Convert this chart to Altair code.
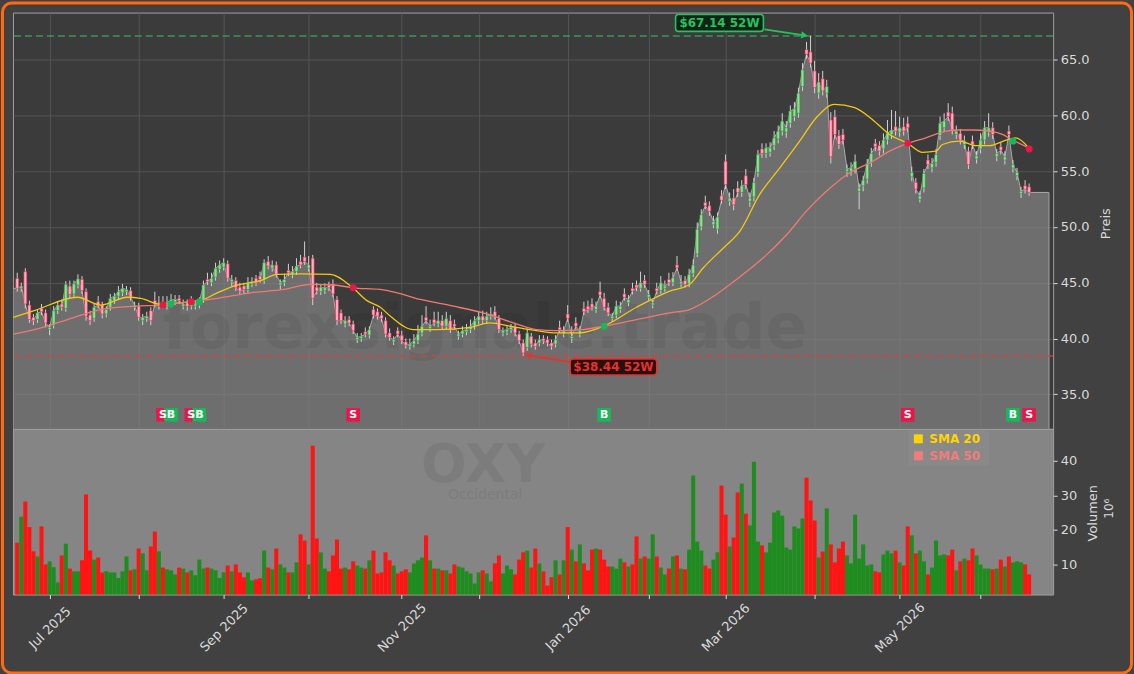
import altair as alt
import pandas as pd

# ---------------- data ----------------
CLOSE = [
    44.5, 44.7, 43.1, 41.7, 41.6, 42.3, 42.4, 41.4, 41.0, 42.5,
    43.0, 42.8, 44.85, 43.95, 44.9, 45.35, 44.3, 42.0, 41.6, 42.8,
    43.0, 42.2, 42.6, 43.6, 43.8, 44.2, 44.5, 44.4, 43.7, 43.0,
    41.9, 41.9, 42.0, 41.6, 43.1, 43.2, 43.0, 43.2, 43.5, 43.5,
    43.4, 43.1, 42.9, 43.3, 43.1, 43.3, 44.8, 45.1, 45.4, 46.3,
    46.6, 46.8, 45.4, 45.3, 44.55, 44.25, 44.4, 45.0, 45.1, 45.0,
    45.3, 46.8, 46.5, 46.6, 45.75, 45.0, 45.3, 45.9, 46.0, 46.5,
    46.6, 46.9, 46.6, 43.6, 44.25, 44.6, 44.55, 44.55, 44.0, 41.6,
    41.6, 41.6, 41.4, 40.7, 40.1, 40.2, 40.4, 40.8, 42.1, 42.0,
    41.8, 40.4, 40.1, 39.9, 40.4, 39.8, 39.4, 39.5, 39.8, 40.4,
    41.1, 41.6, 41.1, 41.4, 41.6, 41.1, 41.8, 40.8, 41.1, 40.4,
    40.7, 40.8, 41.1, 41.6, 42.0, 41.6, 42.0, 42.2, 42.0, 40.8,
    40.7, 40.8, 41.0, 40.5, 39.8, 38.7, 40.5, 39.5, 39.3, 39.9,
    39.8, 39.6, 39.3, 39.9, 40.8, 40.7, 41.8, 40.2, 41.1, 40.7,
    42.4, 42.6, 42.8, 42.9, 43.9, 42.8, 42.3, 42.0, 42.9, 42.9,
    43.7, 43.5, 44.25, 44.55, 45.0, 44.85, 43.95, 43.2, 44.25, 45.0,
    44.7, 45.0, 45.45, 46.35, 45.1, 44.85, 45.75, 46.6, 49.8, 51.1,
    51.9, 51.4, 50.5, 50.9, 52.4, 53.8, 52.6, 52.0, 53.1, 53.7,
    53.8, 52.6, 54.0, 56.5, 56.6, 57.1, 57.1, 58.0, 58.6, 59.5,
    58.9, 60.4, 60.6, 62.0, 64.1, 65.5, 64.7, 62.5, 63.0, 62.2,
    62.6, 56.3, 58.3, 57.4, 57.8, 55.2, 55.3, 55.9, 53.5, 54.2,
    55.7, 56.6, 57.2, 56.8, 57.8, 58.4, 58.7, 58.6, 58.9, 58.6,
    58.9, 54.9, 53.4, 52.8, 54.8, 55.6, 55.7, 56.5, 59.3, 59.5,
    59.9, 58.7, 58.6, 57.8, 57.7, 55.6, 57.4, 56.4, 57.8, 58.9,
    58.9, 58.3, 56.6, 56.9, 56.3, 58.3, 55.6, 54.9, 53.2, 53.4, 53.1,
]
OPEN = [
    45.4, 44.5, 46.0, 43.0, 41.9, 41.7, 42.7, 42.3, 40.8, 41.2,
    42.5, 43.1, 42.7, 44.7, 44.0, 44.8, 45.3, 44.2, 42.1, 41.8,
    43.3, 43.0, 42.2, 42.8, 43.4, 43.8, 44.1, 44.2, 44.3, 42.8,
    42.9, 41.6, 41.8, 42.5, 43.4, 42.9, 43.3, 42.9, 43.1, 43.3,
    43.6, 42.9, 43.2, 42.9, 42.9, 43.0, 43.5, 45.3, 45.0, 45.5,
    46.2, 46.4, 46.7, 45.1, 45.2, 44.6, 44.7, 44.4, 44.9, 45.4,
    45.6, 45.2, 46.9, 46.3, 46.6, 44.8, 45.0, 46.1, 45.7, 46.0,
    46.9, 47.3, 46.3, 47.2, 44.6, 44.2, 44.3, 44.8, 44.9, 43.5,
    42.3, 41.3, 41.7, 41.3, 39.9, 40.0, 40.6, 40.3, 42.6, 42.4,
    42.1, 41.6, 40.5, 39.7, 40.7, 40.3, 39.7, 39.3, 39.5, 39.8,
    40.5, 41.9, 40.9, 41.7, 41.3, 41.6, 41.1, 41.6, 41.3, 40.2,
    40.4, 40.6, 40.8, 41.1, 41.6, 42.0, 41.6, 42.0, 42.4, 41.8,
    40.5, 40.6, 40.8, 41.0, 40.4, 39.6, 39.2, 40.2, 39.6, 39.6,
    40.0, 39.9, 39.6, 39.5, 41.0, 40.4, 42.2, 40.0, 41.4, 40.4,
    42.7, 42.9, 43.1, 42.6, 44.2, 43.6, 42.8, 41.8, 42.1, 42.6,
    44.0, 43.2, 44.5, 44.8, 44.5, 45.2, 43.7, 43.0, 44.5, 44.3,
    44.5, 45.3, 45.0, 46.6, 44.9, 45.2, 44.9, 45.8, 47.6, 50.0,
    52.2, 51.9, 50.2, 49.8, 52.8, 55.9, 52.3, 52.6, 53.5, 53.1,
    54.6, 52.3, 52.7, 54.9, 57.0, 56.6, 56.7, 57.3, 57.9, 58.6,
    58.5, 59.3, 59.9, 60.2, 62.6, 65.9, 65.7, 64.0, 62.0, 63.3,
    62.0, 59.6, 59.9, 58.2, 58.3, 55.0, 55.0, 55.2, 53.2, 53.7,
    54.3, 55.8, 57.5, 57.3, 57.0, 57.8, 58.3, 59.0, 58.5, 59.0,
    59.3, 54.5, 54.0, 52.5, 53.5, 56.0, 55.3, 55.8, 58.2, 58.9,
    60.3, 60.2, 58.3, 58.4, 57.4, 56.8, 57.7, 56.1, 57.0, 57.8,
    58.5, 58.9, 56.3, 57.2, 56.0, 58.6, 55.3, 54.6, 53.0, 53.7, 53.6,
]
WICK_UP = [
    0.5, 0.3, 0.3, 0.4, 0.3, 0.3, 0.4, 0.3, 0.3, 0.4,
    0.3, 0.4, 0.3, 0.5, 0.3, 0.4, 0.3, 0.3, 0.4, 0.3,
    0.5, 0.3, 0.3, 0.4, 0.3, 0.5, 0.4, 0.3, 0.3, 0.3,
    0.3, 0.3, 0.4, 0.3, 0.8, 0.6, 0.5, 0.6, 0.5, 0.4,
    0.3, 0.4, 0.3, 0.5, 0.3, 0.4, 0.4, 0.6, 0.5, 0.5,
    0.4, 0.4, 0.3, 0.4, 0.3, 0.4, 0.3, 0.5, 0.4, 0.3,
    0.4, 0.3, 0.5, 0.4, 0.3, 0.3, 0.5, 0.6, 0.5, 0.7,
    0.6, 1.4, 0.8, 0.3, 0.4, 0.3, 0.4, 0.3, 0.4, 0.3,
    0.3, 0.4, 0.3, 0.3, 0.4, 0.3, 0.4, 0.3, 0.3, 0.3,
    0.3, 0.3, 0.4, 0.3, 0.3, 0.4, 0.3, 0.5, 0.6, 0.8,
    1.0, 1.0, 0.6, 0.7, 0.8, 0.5, 0.6, 0.5, 0.4, 0.3,
    0.4, 0.5, 0.6, 0.4, 0.4, 0.5, 0.4, 0.6, 0.5, 0.3,
    0.3, 0.4, 0.3, 0.3, 0.3, 0.3, 0.4, 0.3, 0.3, 0.4,
    0.3, 0.3, 0.3, 0.4, 0.6, 0.4, 0.8, 0.9, 0.5, 0.4,
    0.6, 0.5, 0.5, 0.4, 0.9, 0.5, 0.4, 0.3, 0.5, 0.4,
    0.5, 0.4, 0.5, 0.4, 1.0, 0.5, 0.4, 0.3, 0.5, 0.6,
    0.5, 0.6, 0.5, 0.8, 0.6, 0.4, 0.5, 0.5, 0.6, 0.5,
    0.6, 0.4, 0.5, 0.4, 0.5, 0.6, 0.5, 0.8, 0.6, 0.5,
    0.6, 0.5, 0.4, 0.4, 0.5, 0.4, 0.5, 0.6, 0.5, 0.7,
    0.6, 0.5, 0.6, 0.5, 0.6, 0.7, 1.44, 0.9, 0.8, 0.7,
    0.6, 0.7, 0.6, 0.5, 0.5, 0.4, 0.5, 0.6, 0.4, 0.4,
    0.4, 0.5, 0.4, 0.4, 0.6, 1.2, 1.8, 1.4, 1.0, 0.8,
    0.6, 0.5, 0.4, 0.4, 0.4, 0.5, 0.5, 0.5, 0.6, 0.7,
    0.8, 0.6, 0.5, 0.4, 0.5, 0.4, 0.5, 0.4, 0.6, 0.6,
    1.3, 0.5, 0.4, 0.4, 0.5, 0.5, 0.4, 0.4, 0.4, 0.5, 0.3,
]
WICK_DN = [
    0.3, 0.3, 0.4, 0.3, 0.4, 0.3, 0.3, 0.4, 0.5, 0.3,
    0.3, 0.3, 0.3, 0.4, 0.3, 0.3, 0.3, 0.4, 0.4, 0.3,
    0.3, 0.4, 0.3, 0.3, 0.3, 0.3, 0.3, 0.3, 0.3, 0.3,
    0.3, 0.4, 0.3, 0.4, 0.3, 0.3, 0.3, 0.3, 0.3, 0.3,
    0.3, 0.3, 0.4, 0.3, 0.3, 0.3, 0.3, 0.3, 0.3, 0.3,
    0.3, 0.3, 0.3, 0.4, 0.3, 0.3, 0.4, 0.3, 0.3, 0.3,
    0.3, 0.3, 0.3, 0.3, 0.3, 0.4, 0.3, 0.3, 0.3, 0.3,
    0.3, 0.3, 0.3, 0.6, 0.3, 0.3, 0.3, 0.3, 0.3, 0.4,
    0.3, 0.3, 0.3, 0.3, 0.3, 0.3, 0.3, 0.3, 0.3, 0.3,
    0.3, 0.3, 0.3, 0.3, 0.3, 0.3, 0.3, 0.3, 0.3, 0.3,
    0.3, 0.3, 0.3, 0.3, 0.3, 0.3, 0.3, 0.3, 0.3, 0.3,
    0.3, 0.3, 0.3, 0.3, 0.3, 0.3, 0.3, 0.3, 0.3, 0.3,
    0.3, 0.3, 0.3, 0.3, 0.3, 0.26, 0.3, 0.3, 0.3, 0.3,
    0.3, 0.3, 0.3, 0.3, 0.3, 0.3, 0.3, 0.4, 0.3, 0.3,
    0.3, 0.3, 0.3, 0.3, 0.3, 0.3, 0.3, 0.3, 0.3, 0.3,
    0.3, 0.3, 0.3, 0.3, 0.3, 0.3, 0.3, 0.3, 0.3, 0.3,
    0.3, 0.3, 0.3, 0.3, 0.3, 0.3, 0.3, 0.3, 0.3, 0.3,
    0.3, 0.4, 0.3, 0.4, 0.3, 0.4, 0.4, 0.5, 0.4, 0.4,
    0.4, 0.5, 0.4, 0.4, 0.4, 0.4, 0.4, 0.4, 0.4, 0.4,
    0.5, 0.4, 0.4, 0.4, 0.4, 0.4, 0.4, 0.5, 0.5, 0.4,
    0.4, 0.6, 0.4, 0.4, 0.4, 0.5, 0.4, 0.4, 1.6, 0.5,
    0.4, 0.4, 0.4, 0.4, 0.4, 0.4, 0.4, 0.4, 0.4, 0.4,
    0.4, 0.4, 0.4, 0.3, 0.4, 0.4, 0.4, 0.4, 0.4, 0.4,
    0.4, 0.4, 0.4, 0.4, 0.4, 0.4, 0.4, 0.4, 0.4, 0.4,
    0.4, 0.4, 0.4, 0.4, 0.4, 0.4, 0.4, 0.4, 0.4, 0.4, 0.3,
]
VOLUME = [
    16.3, 23.8, 28.2, 20.8, 13.8, 12.3, 21.0, 10.0, 10.9, 9.2,
    4.8, 12.6, 16.0, 8.8, 8.0, 8.0, 11.2, 30.2, 14.0, 11.4,
    12.0, 7.7, 8.0, 7.7, 7.7, 6.1, 8.0, 12.3, 8.3, 8.6,
    14.6, 13.2, 8.3, 15.2, 19.5, 13.8, 9.1, 8.6, 8.3, 7.1,
    9.1, 8.8, 7.7, 8.3, 6.9, 11.4, 8.8, 9.1, 8.8, 8.3,
    6.1, 7.7, 9.7, 8.0, 10.0, 7.7, 6.3, 7.7, 5.4, 5.7,
    6.0, 14.0, 9.1, 8.6, 14.6, 10.0, 9.1, 7.7, 7.7, 10.6,
    18.7, 16.9, 10.0, 44.3, 17.5, 13.5, 8.8, 8.0, 12.6, 17.2,
    8.8, 9.1, 8.6, 10.9, 9.7, 9.1, 8.8, 11.2, 14.0, 7.4,
    7.7, 13.5, 11.2, 9.7, 7.4, 8.0, 8.6, 7.7, 10.3, 11.2,
    12.0, 18.4, 11.2, 8.8, 8.8, 8.3, 8.3, 7.4, 10.0, 9.4,
    9.1, 8.0, 7.4, 4.5, 7.7, 8.3, 7.4, 5.1, 10.3, 12.6,
    7.4, 9.7, 8.6, 7.1, 11.4, 13.5, 14.0, 9.1, 14.6, 10.3,
    8.0, 3.9, 6.3, 11.2, 7.1, 11.2, 20.8, 14.3, 10.9, 15.8,
    10.3, 8.3, 14.3, 14.6, 14.3, 11.4, 9.4, 9.4, 8.8, 11.7,
    10.6, 9.4, 10.0, 18.1, 11.7, 12.3, 11.7, 18.7, 12.3, 9.1,
    7.1, 8.8, 12.3, 12.6, 8.8, 8.6, 14.3, 35.7, 16.6, 14.0,
    9.7, 8.8, 11.4, 13.5, 32.8, 24.4, 15.2, 17.8, 30.8, 33.4,
    24.7, 21.3, 39.7, 16.6, 15.5, 13.5, 16.3, 25.0, 25.6, 24.1,
    14.9, 14.3, 21.0, 20.4, 23.3, 35.1, 28.5, 22.7, 12.0, 13.75,
    26.2, 15.8, 10.6, 14.6, 16.6, 12.6, 10.3, 24.4, 11.7, 15.8,
    9.7, 10.0, 8.0, 7.7, 12.9, 14.0, 13.2, 14.0, 10.6, 9.7,
    21.0, 18.4, 13.2, 14.0, 10.9, 7.1, 9.1, 16.9, 12.6, 12.9,
    12.6, 14.3, 8.3, 10.9, 11.7, 11.2, 14.6, 12.6, 10.0, 8.8,
    8.8, 8.6, 8.8, 11.4, 9.4, 12.3, 10.6, 10.9, 10.6, 10.0, 7.1,
]
VOL_UP = [
    0, 1, 0, 0, 0, 1, 0, 0, 1, 1,
    1, 0, 1, 0, 1, 1, 0, 0, 0, 1,
    0, 0, 1, 1, 1, 1, 1, 1, 0, 1,
    0, 1, 1, 0, 0, 1, 0, 1, 1, 1,
    0, 1, 0, 1, 1, 1, 1, 0, 1, 1,
    1, 1, 0, 1, 0, 0, 0, 1, 1, 0,
    0, 1, 0, 1, 0, 1, 1, 0, 1, 1,
    0, 0, 1, 0, 0, 1, 1, 0, 0, 0,
    0, 1, 0, 0, 1, 1, 0, 1, 0, 0,
    0, 0, 0, 1, 0, 0, 0, 1, 1, 1,
    1, 0, 1, 0, 1, 0, 1, 0, 0, 1,
    1, 1, 1, 1, 1, 0, 1, 1, 0, 0,
    1, 1, 1, 0, 0, 0, 1, 0, 0, 1,
    0, 0, 0, 1, 0, 1, 0, 1, 0, 1,
    0, 0, 0, 1, 0, 0, 0, 1, 1, 1,
    0, 1, 0, 0, 1, 0, 1, 1, 0, 1,
    1, 0, 1, 0, 1, 0, 1, 1, 1, 1,
    0, 0, 1, 1, 0, 0, 1, 0, 0, 1,
    0, 1, 1, 1, 0, 1, 1, 1, 1, 1,
    1, 1, 1, 1, 1, 0, 0, 0, 1, 0,
    1, 0, 0, 0, 0, 1, 1, 1, 1, 1,
    1, 1, 0, 0, 1, 1, 1, 0, 1, 0,
    0, 1, 0, 1, 1, 0, 1, 1, 1, 1,
    0, 0, 1, 0, 1, 0, 0, 1, 1, 1,
    1, 0, 1, 0, 1, 0, 1, 1, 1, 0, 0,
]

SMA20_I = [-1.0, 4.2, 14.9, 20.6, 27.2, 30.5, 34.6, 36.0, 38.0, 40.5, 43.0, 45.3,
           49.4, 53.5, 60.1, 64.2, 70.0, 77.4, 82.9, 86.4, 89.7, 92.2, 97.9, 103.7,
           111.9, 116.8, 121.8, 128.3, 133.3, 139.0, 144.8, 153.0, 161.2, 166.1,
           169.4, 174.4, 178.5, 183.4, 188.4, 193.3, 197.4, 201.9, 206.9, 211.4,
           215.5, 220.0, 223.7, 227.0, 228.6, 232.8, 236.9, 240.2, 244.3, 246.7, 249.9]
SMA20_V = [41.9, 42.5, 43.7, 43.0, 43.7, 43.6, 43.1, 43.0, 43.1, 43.2, 43.3, 43.4,
           44.1, 44.7, 45.2, 45.75, 45.8, 45.75, 44.55, 43.4, 42.8, 42.0, 40.8, 40.8,
           41.0, 41.4, 41.1, 40.7, 40.5, 40.5, 41.1, 42.8, 44.25, 44.85,
           46.3, 48.1, 49.6, 52.9, 55.3, 57.7, 59.8, 61.0, 60.7, 59.6,
           58.3, 57.5, 56.7, 56.8, 57.4, 57.7, 57.3, 57.3, 57.8, 58.0, 57.1]
SMA50_I = [-1.0, 4.2, 12.4, 20.6, 28.9, 35.4, 42.8, 49.4, 57.6, 65.9, 72.4, 78.2,
           82.9, 89.7, 93.8, 99.6, 107.8, 116.0, 122.6, 128.3, 133.3, 139.8, 144.8,
           153.0, 161.2, 166.1, 172.7, 177.7, 185.1, 190.8, 194.9, 199.9, 205.6,
           211.4, 215.5, 220.0, 224.5, 229.5, 231.9, 236.0, 240.2, 243.4, 245.9, 249.9]
SMA50_V = [40.4, 40.8, 41.7, 42.6, 42.9, 43.0, 43.3, 43.6, 44.1, 44.4, 44.85, 44.8,
           44.55, 44.4, 44.1, 43.5, 42.9, 42.2, 41.4, 40.8, 40.7, 40.8, 41.1,
           41.7, 42.3, 42.6, 43.95, 45.3, 47.5, 49.6, 51.4, 53.2, 54.85,
           55.9, 56.8, 57.5, 58.0, 58.6, 58.7, 58.7, 58.6, 58.3, 57.8, 57.1]

SIGNAL_I = [36, 38, 43, 45, 83, 145, 220, 246, 250]
SIGNAL_TYPE = ["S", "B", "S", "B", "S", "B", "S", "B", "S"]
SIGNAL_PRICE = [43.0, 43.1, 43.3, 43.3, 44.55, 41.1, 57.5, 57.7, 57.0]

MONTH_TICK_I = [8, 30, 51, 72, 95, 114, 136, 156, 175, 197, 218, 238]
MONTH_LABELS = ["Jul 2025", "", "Sep 2025", "", "Nov 2025", "", "Jan 2026", "",
                "Mar 2026", "", "May 2026", ""]

HIGH_52W = 67.14
HIGH_52W_I = 196
LOW_52W = 38.44
LOW_52W_I = 125

# ---------------- layout / style constants ----------------
N = len(CLOSE)
assert all(len(a) == N for a in [OPEN, WICK_UP, WICK_DN, VOLUME, VOL_UP])
X_DOMAIN = [-1.05, 255.93]
P_DOMAIN = [31.9, 69.23]
V_DOMAIN = [1.3, 49.2]
W, H_PRICE, H_VOL = 1042, 417, 166
AREA_END_I = 254.9
FONT = "DejaVu Sans"
LABEL_C = "#d9d9d9"
GRID_C = "#5a5a5a"
AREA_C = "#858585"
UP_C, DOWN_C = "#1f8c1f", "#ff1414"

df = pd.DataFrame({"i": list(range(N)), "open": OPEN, "close": CLOSE,
                   "vol": VOLUME, "up": VOL_UP, "wu": WICK_UP, "wd": WICK_DN})
df["high"] = df[["open", "close"]].max(axis=1) + df["wu"]
df["low"] = df[["open", "close"]].min(axis=1) - df["wd"]
df["dir"] = df["up"].map({1: "up", 0: "down"})
df["x0"] = df["i"] - 0.5
df["x1"] = df["i"] + 0.5
df["b0"] = df["i"] - 0.36
df["b1"] = df["i"] + 0.36
df["vbase"] = V_DOMAIN[0]

area_df = pd.concat([
    pd.DataFrame({"i": [X_DOMAIN[0]], "close": [CLOSE[0]]}),
    df[["i", "close"]],
    pd.DataFrame({"i": [AREA_END_I], "close": [CLOSE[-1]]}),
], ignore_index=True)

sma20 = pd.DataFrame({"i": SMA20_I, "v": SMA20_V})
sma50 = pd.DataFrame({"i": SMA50_I, "v": SMA50_V})
sig = pd.DataFrame({"i": SIGNAL_I, "t": SIGNAL_TYPE, "p": SIGNAL_PRICE})
one = pd.DataFrame({"k": [0]})

xs = alt.Scale(domain=X_DOMAIN, nice=False, zero=False)
ps = alt.Scale(domain=P_DOMAIN, nice=False, zero=False)
vs = alt.Scale(domain=V_DOMAIN, nice=False, zero=False)

x_ax_price = alt.Axis(values=MONTH_TICK_I, grid=True, gridColor=GRID_C, gridWidth=0.8,
                      labels=False, ticks=False, domain=False, title=None)
y_ax_price = alt.Axis(orient="right", values=[35, 40, 45, 50, 55, 60, 65], format=".1f",
                      grid=True, gridColor=GRID_C, gridWidth=0.8, domain=False,
                      tickColor=LABEL_C, tickSize=4, labelColor=LABEL_C, labelFontSize=13,
                      labelPadding=3, title="Preis", titleColor=LABEL_C, titleFontSize=13,
                      titleFontWeight="normal", titleAngle=270, titleX=52, titleY=211,
                      titleAlign="center", titleBaseline="middle")

label_expr = " : ".join(f"datum.value == {v} ? '{l}'"
                        for v, l in zip(MONTH_TICK_I, MONTH_LABELS) if l) + " : ''"
x_ax_vol = alt.Axis(values=MONTH_TICK_I, labelExpr=label_expr, grid=False, domain=False,
                    tickColor=LABEL_C, tickSize=4, labelColor=LABEL_C, labelFontSize=13,
                    labelAngle=-45, labelAlign="center", labelBaseline="middle",
                    labelPadding=29, labelOverlap=False, labelFlush=False, title=None)
y_ax_vol = alt.Axis(orient="right", values=[10, 20, 30, 40], grid=False, domain=False,
                    tickColor=LABEL_C, tickSize=4, labelColor=LABEL_C, labelFontSize=13,
                    labelPadding=3, title="Volumen", titleColor=LABEL_C, titleFontSize=13,
                    titleFontWeight="normal", titleAngle=270, titleX=39, titleY=84,
                    titleAlign="center", titleBaseline="middle")


def px(field="i"):
    return alt.X(f"{field}:Q", scale=xs, axis=x_ax_price)


def py(field):
    return alt.Y(f"{field}:Q", scale=ps, axis=y_ax_price)


# ---------------- price panel ----------------
border = alt.Chart(one).mark_rect(fill=None, stroke="#ff6a13", strokeWidth=3,
                                  cornerRadius=9).encode(
    x=alt.value(-10.5), x2=alt.value(1120.5), y=alt.value(-9.5), y2=alt.value(661.5))

area = alt.Chart(area_df).mark_area(color=AREA_C, clip=True,
                                    line={"color": "#a9a9a9", "strokeWidth": 1}).encode(
    x=px(), y=py("close"))

area_edge = alt.Chart(pd.DataFrame({"i": [AREA_END_I], "a": [CLOSE[-1]], "b": [P_DOMAIN[0]]})
                      ).mark_rule(color="#a0a0a0", strokeWidth=1).encode(
    x=px(), y=py("a"), y2="b:Q")

lvl = pd.DataFrame({"p": [HIGH_52W, LOW_52W], "c": ["hi", "lo"]})
level_lines = alt.Chart(lvl).mark_rule(strokeDash=[7, 4], strokeWidth=1.5, opacity=0.85).encode(
    y=py("p"),
    color=alt.Color("c:N", scale=alt.Scale(domain=["hi", "lo"], range=["#3aa85c", "#d9413f"]),
                    legend=None))

watermark = alt.Chart(one).mark_text(text="forexsignale.trade", font=FONT, fontWeight="bold",
                                     fontSize=62, color="#000000", opacity=0.055,
                                     align="center", baseline="alphabetic").encode(
    x=alt.value(473), y=alt.value(336))

wicks = alt.Chart(df).mark_rule(color="#d2d2d2", strokeWidth=1).encode(
    x=px(), y=py("low"), y2="high:Q")

bodies = alt.Chart(df).mark_rect(strokeWidth=0.6).encode(
    x=px("b0"), x2="b1:Q", y=py("open"), y2="close:Q",
    fill=alt.Fill("dir:N", scale=alt.Scale(domain=["up", "down"], range=["#8fe08f", "#ffadc0"]),
                  legend=None),
    stroke=alt.Stroke("dir:N", scale=alt.Scale(domain=["up", "down"], range=["#2e8b3e", "#e0284f"]),
                      legend=None))

sma20_line = alt.Chart(sma20).mark_line(color="#f2c914", strokeWidth=1.3,
                                        interpolate="monotone").encode(x=px(), y=py("v"))
sma50_line = alt.Chart(sma50).mark_line(color="#ef7a72", strokeWidth=1.3,
                                        interpolate="monotone").encode(x=px(), y=py("v"))

sig_col = alt.Scale(domain=["S", "B"], range=["#e8174a", "#18b85a"])
sig_dots = alt.Chart(sig).mark_circle(size=48, opacity=1).encode(
    x=px(), y=py("p"), color=alt.Color("t:N", scale=sig_col, legend=None))
sig_boxes = alt.Chart(sig).mark_square(size=185, opacity=1).encode(
    x=px(), y=alt.value(403), color=alt.Color("t:N", scale=sig_col, legend=None))
sig_text = alt.Chart(sig).mark_text(font=FONT, fontWeight="bold", fontSize=11, color="white",
                                    align="center", baseline="middle", dy=0.5).encode(
    x=px(), y=alt.value(403), text="t:N")

# 52-week annotations (box centre/size in data units, arrow from box to extreme)
ann = pd.DataFrame({
    "cx": [173.5, 147.3], "cy": [68.3, 37.45],
    "hw": [10.85, 10.7], "hh": [0.76, 0.72],
    "label": [f"${HIGH_52W:.2f} 52W", f"${LOW_52W:.2f} 52W"],
    "c": ["hi", "lo"],
    "ax0": [184.6, 136.4], "ay0": [67.72, 37.9],
    "ax1": [HIGH_52W_I - 1.5, LOW_52W_I + 1.2], "ay1": [HIGH_52W + 0.05, LOW_52W + 0.05],
})
ann["x0"] = ann.cx - ann.hw
ann["x1"] = ann.cx + ann.hw
ann["y0"] = ann.cy - ann.hh
ann["y1"] = ann.cy + ann.hh
ann_c_line = alt.Scale(domain=["hi", "lo"], range=["#27c25e", "#e3332e"])
ann_c_fill = alt.Scale(domain=["hi", "lo"], range=["#0e2416", "#2a0f0f"])

ann_box = alt.Chart(ann).mark_rect(strokeWidth=1.6, cornerRadius=3).encode(
    x=px("x0"), x2="x1:Q", y=py("y0"), y2="y1:Q",
    fill=alt.Fill("c:N", scale=ann_c_fill, legend=None),
    stroke=alt.Stroke("c:N", scale=ann_c_line, legend=None))
ann_text = alt.Chart(ann).mark_text(font=FONT, fontWeight="bold", fontSize=12,
                                    align="center", baseline="middle", dy=0.5).encode(
    x=px("cx"), y=py("cy"), text="label:N",
    color=alt.Color("c:N", scale=ann_c_line, legend=None))
ann_arrow = alt.Chart(ann).mark_rule(strokeWidth=1.8).encode(
    x=px("ax0"), x2="ax1:Q", y=py("ay0"), y2="ay1:Q",
    color=alt.Color("c:N", scale=ann_c_line, legend=None))
ann_head_hi = alt.Chart(ann[ann.c == "hi"]).mark_point(
    shape="triangle-right", filled=True, size=55, angle=8, opacity=1, color="#27c25e").encode(
    x=px("ax1"), y=py("ay1"))
ann_head_lo = alt.Chart(ann[ann.c == "lo"]).mark_point(
    shape="triangle-left", filled=True, size=55, angle=11, opacity=1, color="#e3332e").encode(
    x=px("ax1"), y=py("ay1"))

price = alt.layer(
    border, area, area_edge, watermark, level_lines, wicks, bodies, sma20_line, sma50_line,
    ann_arrow, ann_head_hi, ann_head_lo, ann_box, ann_text, sig_dots, sig_boxes, sig_text,
).resolve_scale(color="independent", fill="independent", stroke="independent").properties(
    width=W, height=H_PRICE,
    view=alt.ViewBackground(fill="#3b3b3b", stroke="#a0a0a0", strokeWidth=1),
)

# ---------------- volume panel ----------------
def vx(field="i"):
    return alt.X(f"{field}:Q", scale=xs, axis=x_ax_vol)


vol_bars = alt.Chart(df).mark_rect().encode(
    x=vx("x0"), x2="x1:Q",
    y=alt.Y("vol:Q", scale=vs, axis=y_ax_vol), y2="vbase:Q",
    color=alt.Color("dir:N", scale=alt.Scale(domain=["up", "down"], range=[UP_C, DOWN_C]),
                    legend=None))

oxy = alt.Chart(one).mark_text(text="OXY", font=FONT, fontWeight="bold", fontSize=54,
                               color="#000000", opacity=0.06, align="center",
                               baseline="alphabetic").encode(x=alt.value(471), y=alt.value(53))
occ = alt.Chart(one).mark_text(text="Occidental", font=FONT, fontSize=14, color="#000000",
                               opacity=0.06, align="center", baseline="middle").encode(
    x=alt.value(473), y=alt.value(66))

leg = pd.DataFrame({"name": ["SMA 20", "SMA 50"], "yy": [10, 27]})
leg_bg = alt.Chart(one).mark_rect(fill="#ffffff", opacity=0.04).encode(
    x=alt.value(897), x2=alt.value(978), y=alt.value(1), y2=alt.value(37))
leg_sq = alt.Chart(leg).mark_square(size=80, filled=True, opacity=1).encode(
    x=alt.value(907), y=alt.Y("yy:Q", scale=None),
    color=alt.Color("name:N", scale=alt.Scale(domain=["SMA 20", "SMA 50"],
                                              range=["#ffd400", "#f27c7c"]), legend=None))
leg_txt = alt.Chart(leg).mark_text(font=FONT, fontWeight="bold", fontSize=12, align="left",
                                   baseline="middle").encode(
    x=alt.value(918), y=alt.Y("yy:Q", scale=None), text="name:N",
    color=alt.Color("name:N", scale=alt.Scale(domain=["SMA 20", "SMA 50"],
                                              range=["#ffd400", "#f27c7c"]), legend=None))
exp_txt = alt.Chart(one).mark_text(text="10⁶", font=FONT, fontSize=12, color=LABEL_C,
                                   angle=270, align="center", baseline="middle").encode(
    x=alt.value(1098), y=alt.value(80))

volume = alt.layer(vol_bars, oxy, occ, leg_bg, leg_sq, leg_txt, exp_txt).resolve_scale(
    color="independent").properties(
    width=W, height=H_VOL,
    view=alt.ViewBackground(fill=AREA_C, stroke="#a0a0a0", strokeWidth=1),
)

chart = alt.vconcat(price, volume, spacing=0, bounds="flush").properties(
    padding=0, background="#414141"
).configure(font=FONT)

chart.save("out.html", embed_options={"renderer": "svg", "actions": False})
